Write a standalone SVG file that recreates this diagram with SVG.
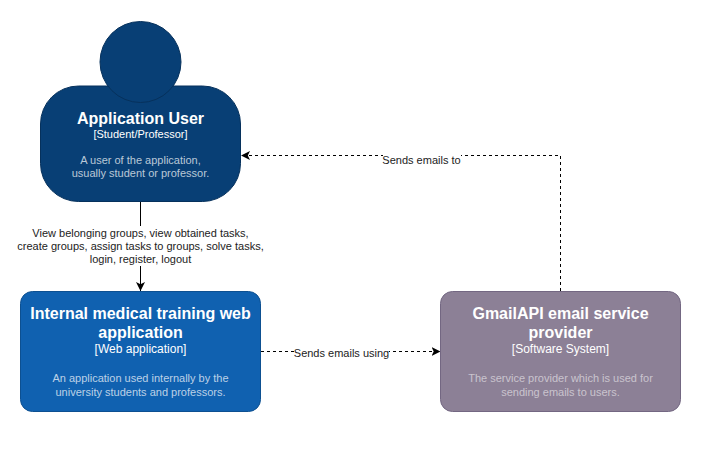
<svg xmlns="http://www.w3.org/2000/svg" width="701" height="453" viewBox="0 0 701 453">
<style>
text{font-family:"Liberation Sans",Arial,sans-serif;text-anchor:middle}
.t{font-size:16px;font-weight:bold;fill:#fff}
.s{font-size:12px;fill:#fff}
.s1{font-size:11px;fill:#fff}
.d{font-size:11px;fill:#fff;fill-opacity:.72}
.d2{font-size:11px;fill:#fff;fill-opacity:.55}
.l{font-size:11px;fill:#222}
.c{fill:none;stroke:#000;stroke-width:1}
.u{fill:#083f75;stroke:#06315c}
</style>
<defs>
<marker id="a" markerUnits="userSpaceOnUse" markerWidth="11" markerHeight="11" refX="9" refY="5" orient="auto"><path d="M0 0.500L9 5L0 9.500L2.200 5Z" fill="#000"/></marker>
</defs>
<rect width="701" height="453" fill="#fff"/>
<g id="connectors">
<path class="c" d="M140.500 202V291" marker-end="url(#a)"/>
<path class="c" stroke-dasharray="3 3" d="M261 351.500H440.500" marker-end="url(#a)"/>
<path class="c" stroke-dasharray="3 3" d="M560.500 291V155.500H241" marker-end="url(#a)"/>
<g>
<rect x="15" y="226" width="251" height="40" fill="#fff"/>
<text class="l" x="140.500" y="237">View belonging groups, view obtained tasks,</text>
<text class="l" x="140.500" y="250">create groups, assign tasks to groups, solve tasks,</text>
<text class="l" x="140.500" y="263">login, register, logout</text>
</g>
<g>
<rect x="294" y="346" width="95" height="13" fill="#fff"/>
<text class="l" x="341.500" y="357">Sends emails using</text>
</g>
<g>
<rect x="383" y="154" width="78" height="13" fill="#fff"/>
<text class="l" x="421.500" y="164">Sends emails to</text>
</g>
</g>
<g id="application-user">
<rect class="u" x="40.500" y="86" width="200" height="115.500" rx="38" ry="38"/>
<circle class="u" cx="140.500" cy="62" r="40.500"/>
<text class="t" x="140.500" y="124">Application User</text>
<text class="s1" x="140.500" y="138">[Student/Professor]</text>
<text class="d" x="140.500" y="164">A user of the application,</text>
<text class="d" x="140.500" y="177">usually student or professor.</text>
</g>
<g id="web-application">
<rect x="20.500" y="291.500" width="240" height="120" rx="12" fill="#1061b0" stroke="#0d5091"/>
<text class="t" x="140.500" y="319">Internal medical training web</text>
<text class="t" x="140.500" y="338">application</text>
<text class="s" x="140.500" y="353">[Web application]</text>
<text class="d" x="140.500" y="382">An application used internally by the</text>
<text class="d" x="140.500" y="396">university students and professors.</text>
</g>
<g id="gmail-api">
<rect x="440.500" y="291.500" width="240" height="120" rx="12" fill="#8c8096" stroke="#736782"/>
<text class="t" x="560.500" y="319">GmailAPI email service</text>
<text class="t" x="560.500" y="338">provider</text>
<text class="s" x="560.500" y="353">[Software System]</text>
<text class="d2" x="560.500" y="382">The service provider which is used for</text>
<text class="d2" x="560.500" y="396">sending emails to users.</text>
</g>
</svg>
